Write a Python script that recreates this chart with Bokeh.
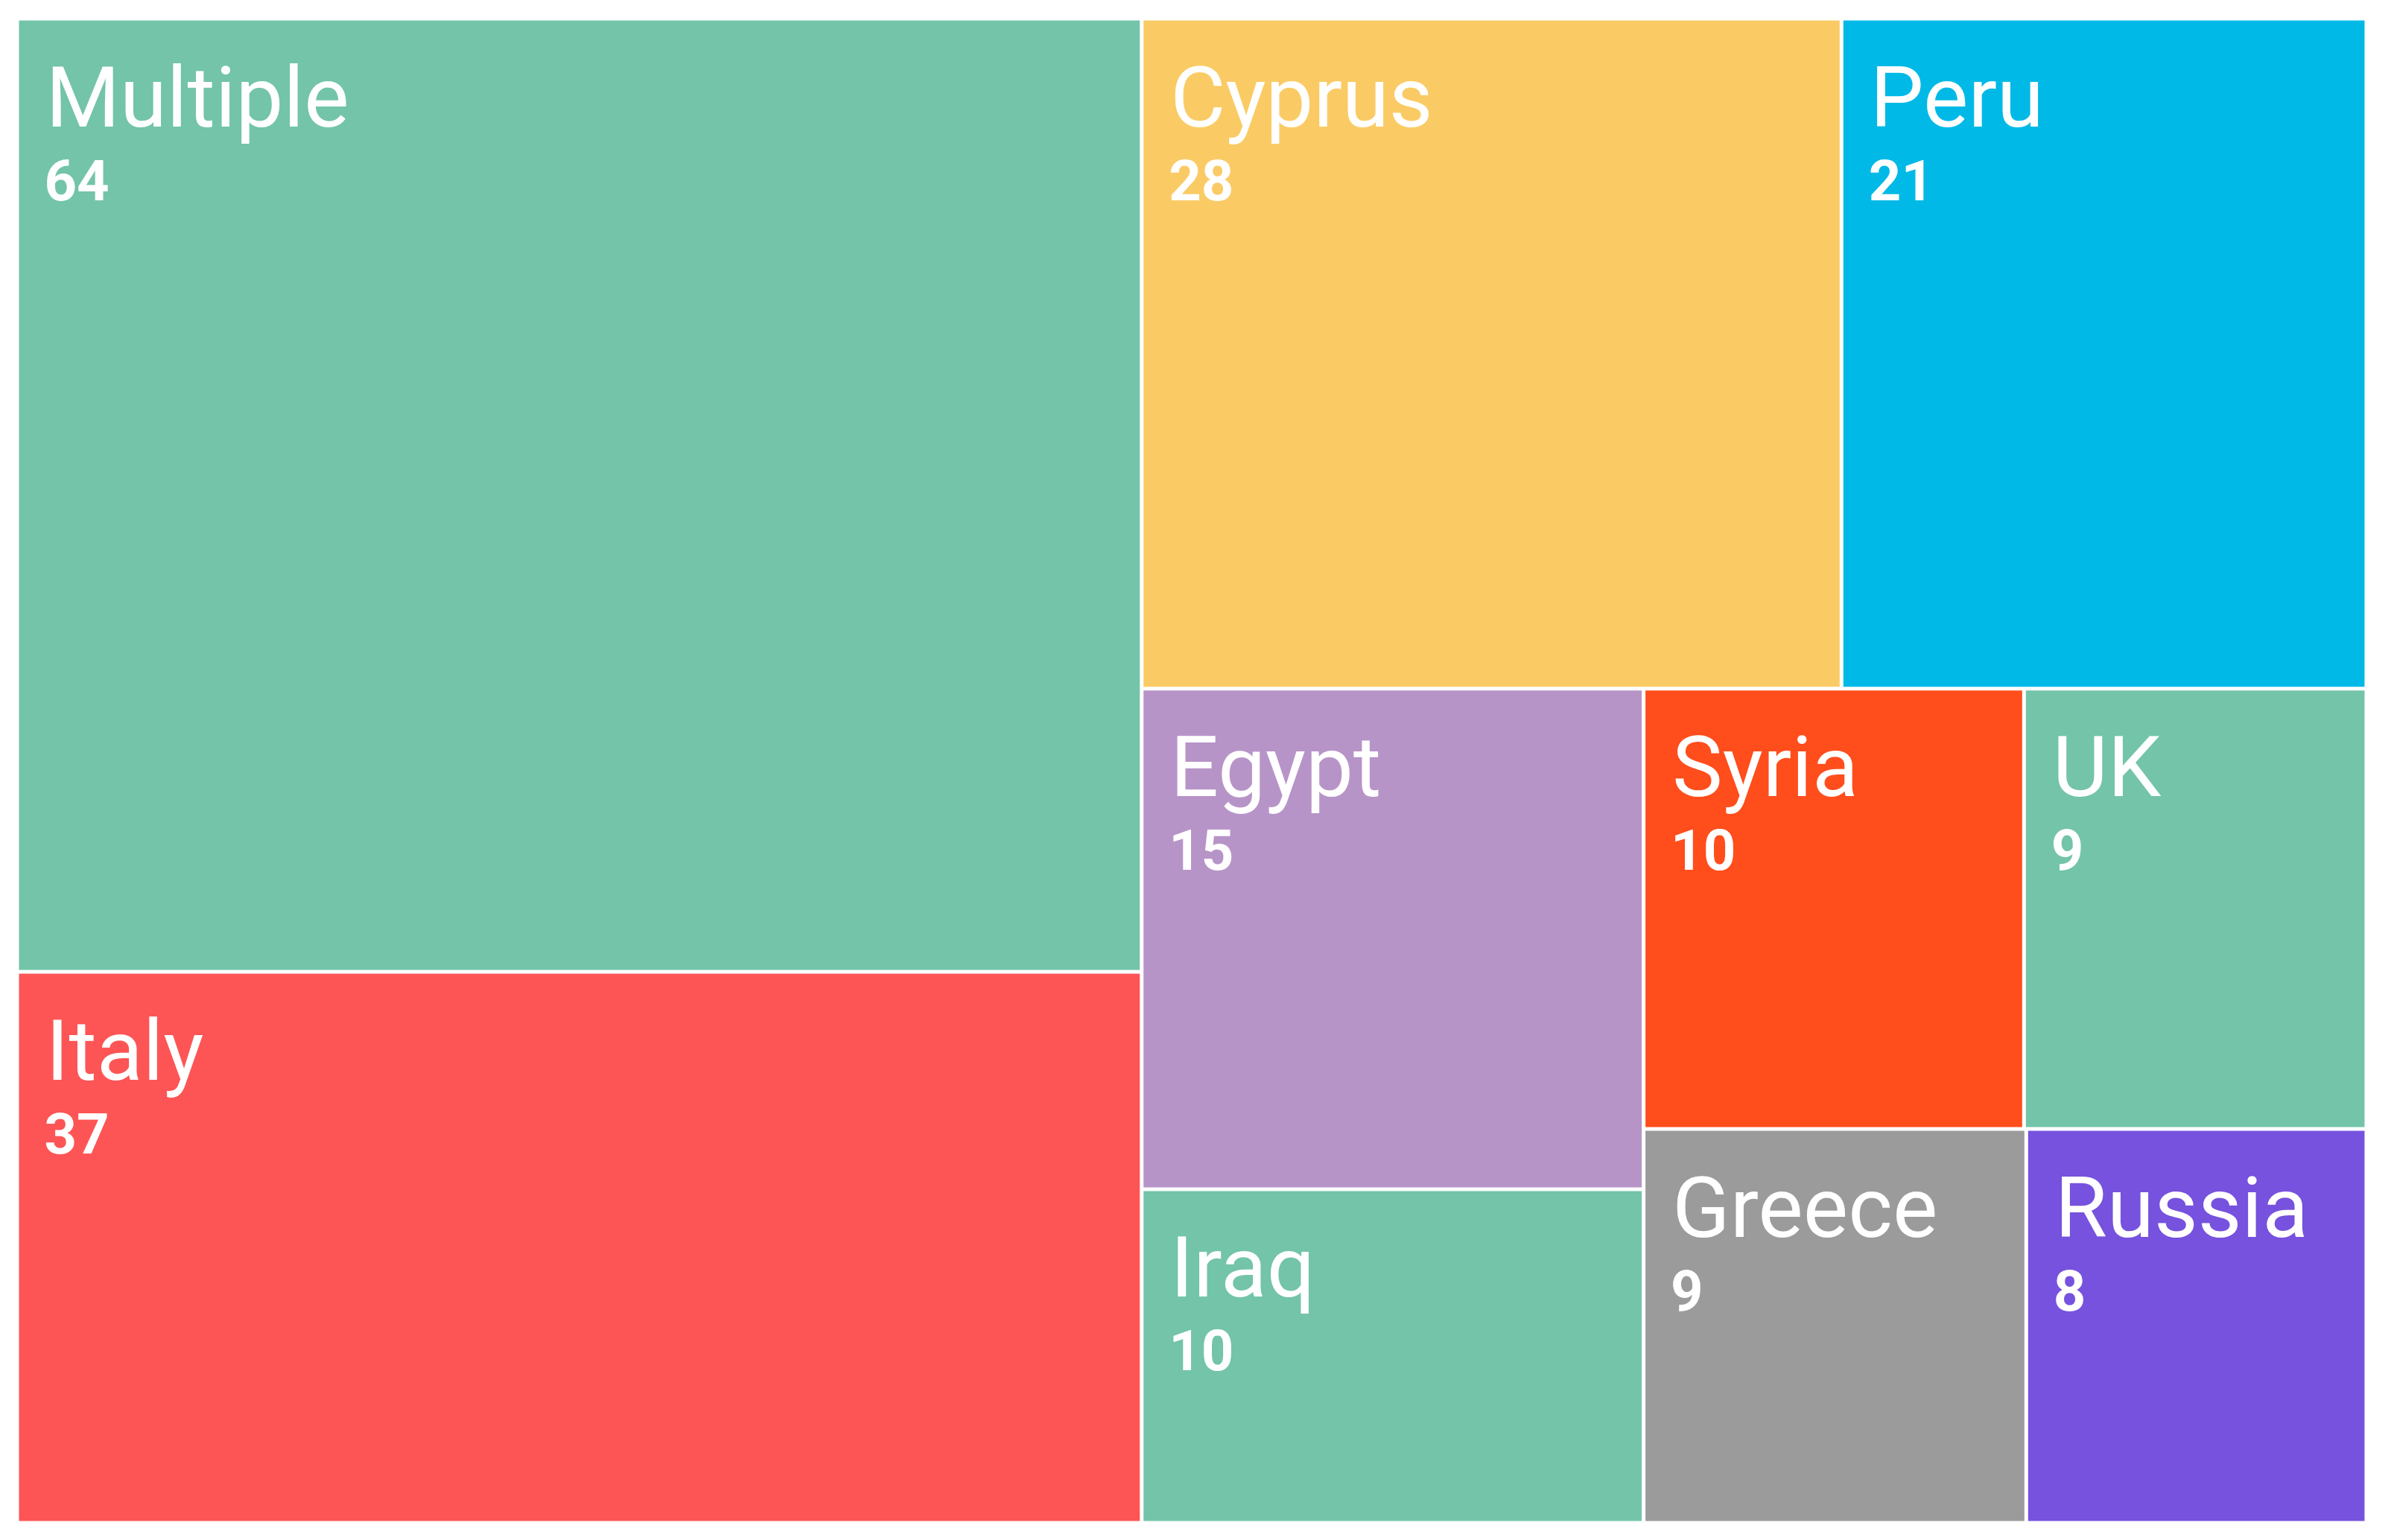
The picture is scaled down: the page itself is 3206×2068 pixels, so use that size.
from bokeh.plotting import figure
from bokeh.models import Range1d, ColumnDataSource
from bokeh.core.properties import value
from bokeh.embed import file_html
from bokeh.resources import INLINE

# ---- data ----
names = ["Multiple", "Italy", "Cyprus", "Peru", "Egypt", "Iraq", "Syria", "UK", "Greece", "Russia"]
counts = [64, 37, 28, 21, 15, 10, 10, 9, 9, 8]
colors = ["#73C4A8", "#FD5555", "#FACB65", "#00B9E6", "#B794C8", "#73C4A8",
          "#FF4D1C", "#73C4A8", "#9B9B9B", "#7652DE"]

# ---- layout (pixel-like data units) ----
W, H = 3190, 2052
GAP = 5.0
BX0, BY0, BX1, BY1 = 22.5, 24.5, 3176.5, 2044.5


def worst(row, length):
    s = sum(row)
    return max(max(length * length * r / (s * s), (s * s) / (length * length * r)) for r in row)


def squarify(areas, x, y, w, h):
    rects = []
    areas = list(areas)
    while areas:
        short = min(w, h)
        row = [areas[0]]
        i = 1
        while i < len(areas) and worst(row + [areas[i]], short) <= worst(row, short):
            row.append(areas[i])
            i += 1
        s = sum(row)
        if w >= h:
            t = s / h
            yy = y
            for a in row:
                hh = a / t
                rects.append((x, yy, t, hh))
                yy += hh
            x += t
            w -= t
        else:
            t = s / w
            xx = x
            for a in row:
                ww = a / t
                rects.append((xx, y, ww, t))
                xx += ww
            y += t
            h -= t
        areas = areas[i:]
    return rects


bw, bh = BX1 - BX0, BY1 - BY0
total = float(sum(counts))
areas = [c / total * bw * bh for c in counts]
rects = squarify(areas, BX0, BY0, bw, bh)

left = [r[0] + GAP / 2 for r in rects]
right = [r[0] + r[2] - GAP / 2 for r in rects]
top = [r[1] + GAP / 2 for r in rects]
bottom = [r[1] + r[3] - GAP / 2 for r in rects]

src = ColumnDataSource(dict(left=left, right=right, top=top, bottom=bottom, color=colors,
                            name=names, count=[str(c) for c in counts],
                            tx=[l + 36 for l in left],
                            tx2=[l + 34 for l in left],
                            ty1=[t + 103 for t in top],
                            ty2=[t + 214 for t in top]))

p = figure(width=W, height=H, output_backend="svg", toolbar_location=None,
           x_range=Range1d(0, W), y_range=Range1d(H, 0),
           min_border=0, min_border_left=0, min_border_right=0,
           min_border_top=0, min_border_bottom=0)
p.axis.visible = False
p.grid.visible = False
p.outline_line_color = None
p.background_fill_color = "white"
p.border_fill_color = "white"

p.quad(left="left", right="right", top="top", bottom="bottom", fill_color="color",
       line_color=None, source=src)

p.text(x="tx", y="ty1", text="name", source=src, text_color="white",
       text_font=value("Roboto"), text_font_size="114px", text_baseline="alphabetic",
       text_align="left")
p.text(x="tx2", y="ty2", text="count", source=src, text_color="white",
       text_font=value("Roboto"), text_font_size="76px", text_font_style="bold",
       text_baseline="alphabetic", text_align="left")

open("out.html", "w").write(file_html(p, INLINE))
